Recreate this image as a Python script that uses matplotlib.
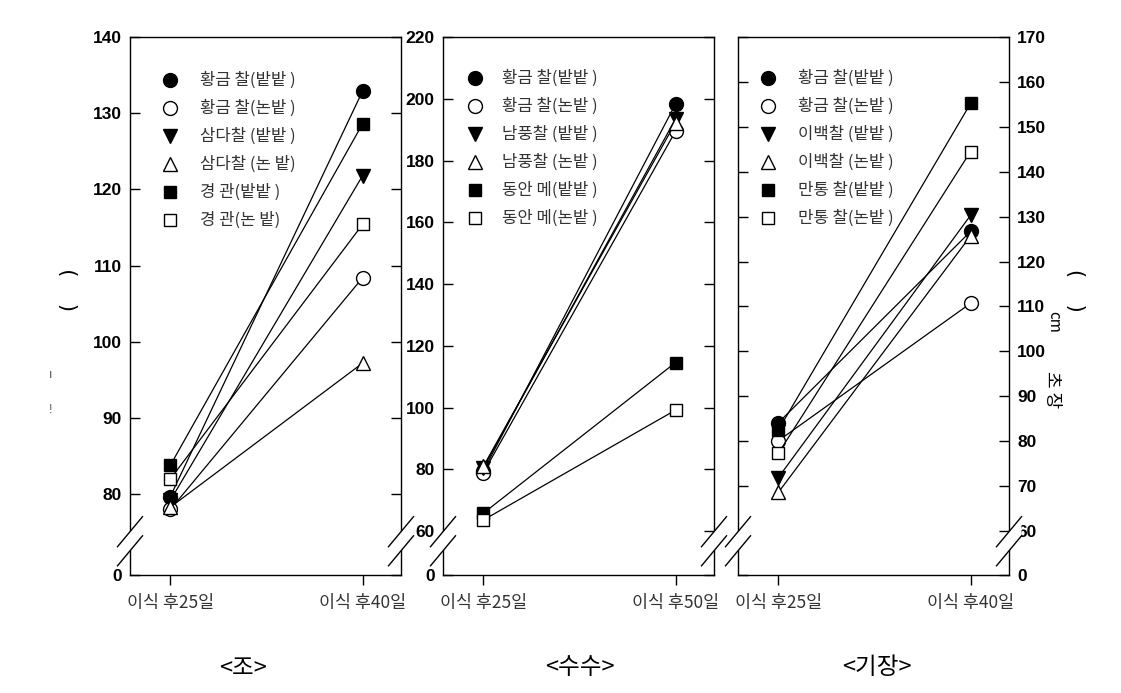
import matplotlib
matplotlib.use('Agg')
import matplotlib.pyplot as plt
from matplotlib.patches import Polygon

plt.rcParams['font.family'] = ['Liberation Sans', 'Noto Sans CJK KR', 'DejaVu Sans']

# --- data (초장, cm) ---
jo_labels = ['황금 찰(밭밭 )', '황금 찰(논밭 )', '삼다찰 (밭밭 )', '삼다찰 (논 밭)', '경 관(밭밭 )', '경 관(논 밭)']
jo_days = ['이식 후25일', '이식 후40일']
jo_d1 = [79.7, 78.0, 79.2, 78.3, 83.8, 82.0]
jo_d2 = [132.9, 108.4, 121.8, 97.2, 128.6, 115.4]

susu_labels = ['황금 찰(밭밭 )', '황금 찰(논밭 )', '남풍찰 (밭밭 )', '남풍찰 (논밭 )', '동안 메(밭밭 )', '동안 메(논밭 )']
susu_days = ['이식 후25일', '이식 후50일']
susu_d1 = [79.5, 78.9, 80.5, 81.0, 65.8, 63.6]
susu_d2 = [198.3, 189.5, 193.5, 192.3, 114.6, 99.2]

gijang_labels = ['황금 찰(밭밭 )', '황금 찰(논밭 )', '이백찰 (밭밭 )', '이백찰 (논밭 )', '만통 찰(밭밭 )', '만통 찰(논밭 )']
gijang_days = ['이식 후25일', '이식 후40일']
gijang_d1 = [84.1, 80.1, 71.9, 68.6, 82.5, 77.3]
gijang_d2 = [126.7, 110.7, 130.3, 125.7, 155.2, 144.5]

titles = ['<조>', '<수수>', '<기장>']

# marker styles shared by the three panels
markers = ['o', 'o', 'v', '^', 's', 's']
faces = ['black', 'white', 'black', 'white', 'black', 'white']
msizes = [10, 10, 10, 10, 9, 9]

KR = ['Noto Sans CJK KR', 'DejaVu Sans']

fig = plt.figure(figsize=(11.21, 6.93), dpi=100)

panels = [
    dict(left=130, lo=69.4, ticks=[80, 90, 100, 110, 120, 130, 140], hi=140, side='left',
         labels=jo_labels, days=jo_days, d1=jo_d1, d2=jo_d2, leg=(170, 200, 80)),
    dict(left=443, lo=45.8, ticks=[60, 80, 100, 120, 140, 160, 180, 200, 220], hi=220, side='left',
         labels=susu_labels, days=susu_days, d1=susu_d1, d2=susu_d2, leg=(475, 502, 78)),
    dict(left=738, lo=50.2, ticks=[60, 70, 80, 90, 100, 110, 120, 130, 140, 150, 160, 170], hi=170,
         side='right', labels=gijang_labels, days=gijang_days, d1=gijang_d1, d2=gijang_d2,
         leg=(768, 798, 78)),
]

W, H = 1121, 693
top_px, bot_px, width_px = 37, 575, 271

for p, title in zip(panels, titles):
    ax = fig.add_axes([p['left'] / W, 1 - bot_px / H, width_px / W, (bot_px - top_px) / H])
    for i in range(6):
        ax.plot([0, 1], [p['d1'][i], p['d2'][i]], color='black', lw=0.9,
                marker=markers[i], mfc=faces[i], mec='black', mew=1.0, ms=msizes[i])

    ax.set_xlim(-0.21, 1.2)
    ax.set_ylim(p['lo'], p['hi'])
    ax.set_xticks([0, 1])
    ax.set_xticklabels(p['days'], fontsize=12.5, family=KR, color='#333333')
    ax.set_yticks([p['lo']] + p['ticks'])
    ax.set_yticklabels(['0'] + [str(t) for t in p['ticks']], fontsize=12.5, fontweight='bold')
    ax.tick_params(axis='x', direction='out', length=7, width=1, pad=7)
    ax.tick_params(axis='y', direction='in', length=7, width=1, pad=6, left=True, right=True)
    if p['side'] == 'right':
        ax.tick_params(axis='y', labelleft=False, labelright=True)
    for s in ax.spines.values():
        s.set_linewidth(1.0)

    # axis break marks on both sides
    dx = 12.5 / width_px
    dh = 15 / (bot_px - top_px)
    c1 = 1 - (531.7 - top_px) / (bot_px - top_px)
    c2 = 1 - (550.8 - top_px) / (bot_px - top_px)
    for xs in (0, 1):
        ax.add_patch(Polygon([(xs - dx, c2 - dh), (xs + dx, c2 + dh), (xs + dx, c1 + dh), (xs - dx, c1 - dh)],
                             closed=True, transform=ax.transAxes, facecolor='white', edgecolor='none',
                             clip_on=False, zorder=5))
        for c in (c1, c2):
            ax.plot([xs - dx, xs + dx], [c - dh, c + dh], color='black', lw=1.0,
                    transform=ax.transAxes, clip_on=False, zorder=6)

    # legend drawn as marker + text rows
    mx, tx, y0 = p['leg']
    for i in range(6):
        yy = 1 - (y0 + 28 * i - top_px) / (bot_px - top_px)
        ax.plot([(mx - p['left']) / width_px], [yy], marker=markers[i], mfc=faces[i], mec='black',
                mew=1.0, ms=msizes[i], transform=ax.transAxes, clip_on=False, ls='none')
        ax.text((tx - p['left']) / width_px, yy, p['labels'][i], transform=ax.transAxes,
                va='center', ha='left', fontsize=12, color='#333333', family=KR)

# panel captions
for x, t in zip([243, 580, 877], titles):
    fig.text(x / W, 1 - 668 / H, t, ha='center', va='center', fontsize=17, family=KR)

# y axis label fragments (as they appear)
fig.text(70 / W, 1 - 290 / H, '(    )', rotation=90, ha='center', va='center', fontsize=15,
         family=['DejaVu Sans'])
fig.text(51 / W, 1 - 375 / H, 'ı', ha='center', va='center', fontsize=9, color='#555555')
fig.text(51 / W, 1 - 410 / H, '!', ha='center', va='center', fontsize=9, color='#555555')
fig.text(1075 / W, 1 - 290 / H, '(    )', rotation=270, ha='center', va='center', fontsize=15,
         family=['DejaVu Sans'])
fig.text(1054 / W, 1 - 322 / H, 'cm', rotation=270, ha='center', va='center', fontsize=11, family=KR)
fig.text(1052 / W, 1 - 390 / H, '초 장', rotation=270, ha='center', va='center', fontsize=13, family=KR)

fig.savefig('out.png', dpi=100)
